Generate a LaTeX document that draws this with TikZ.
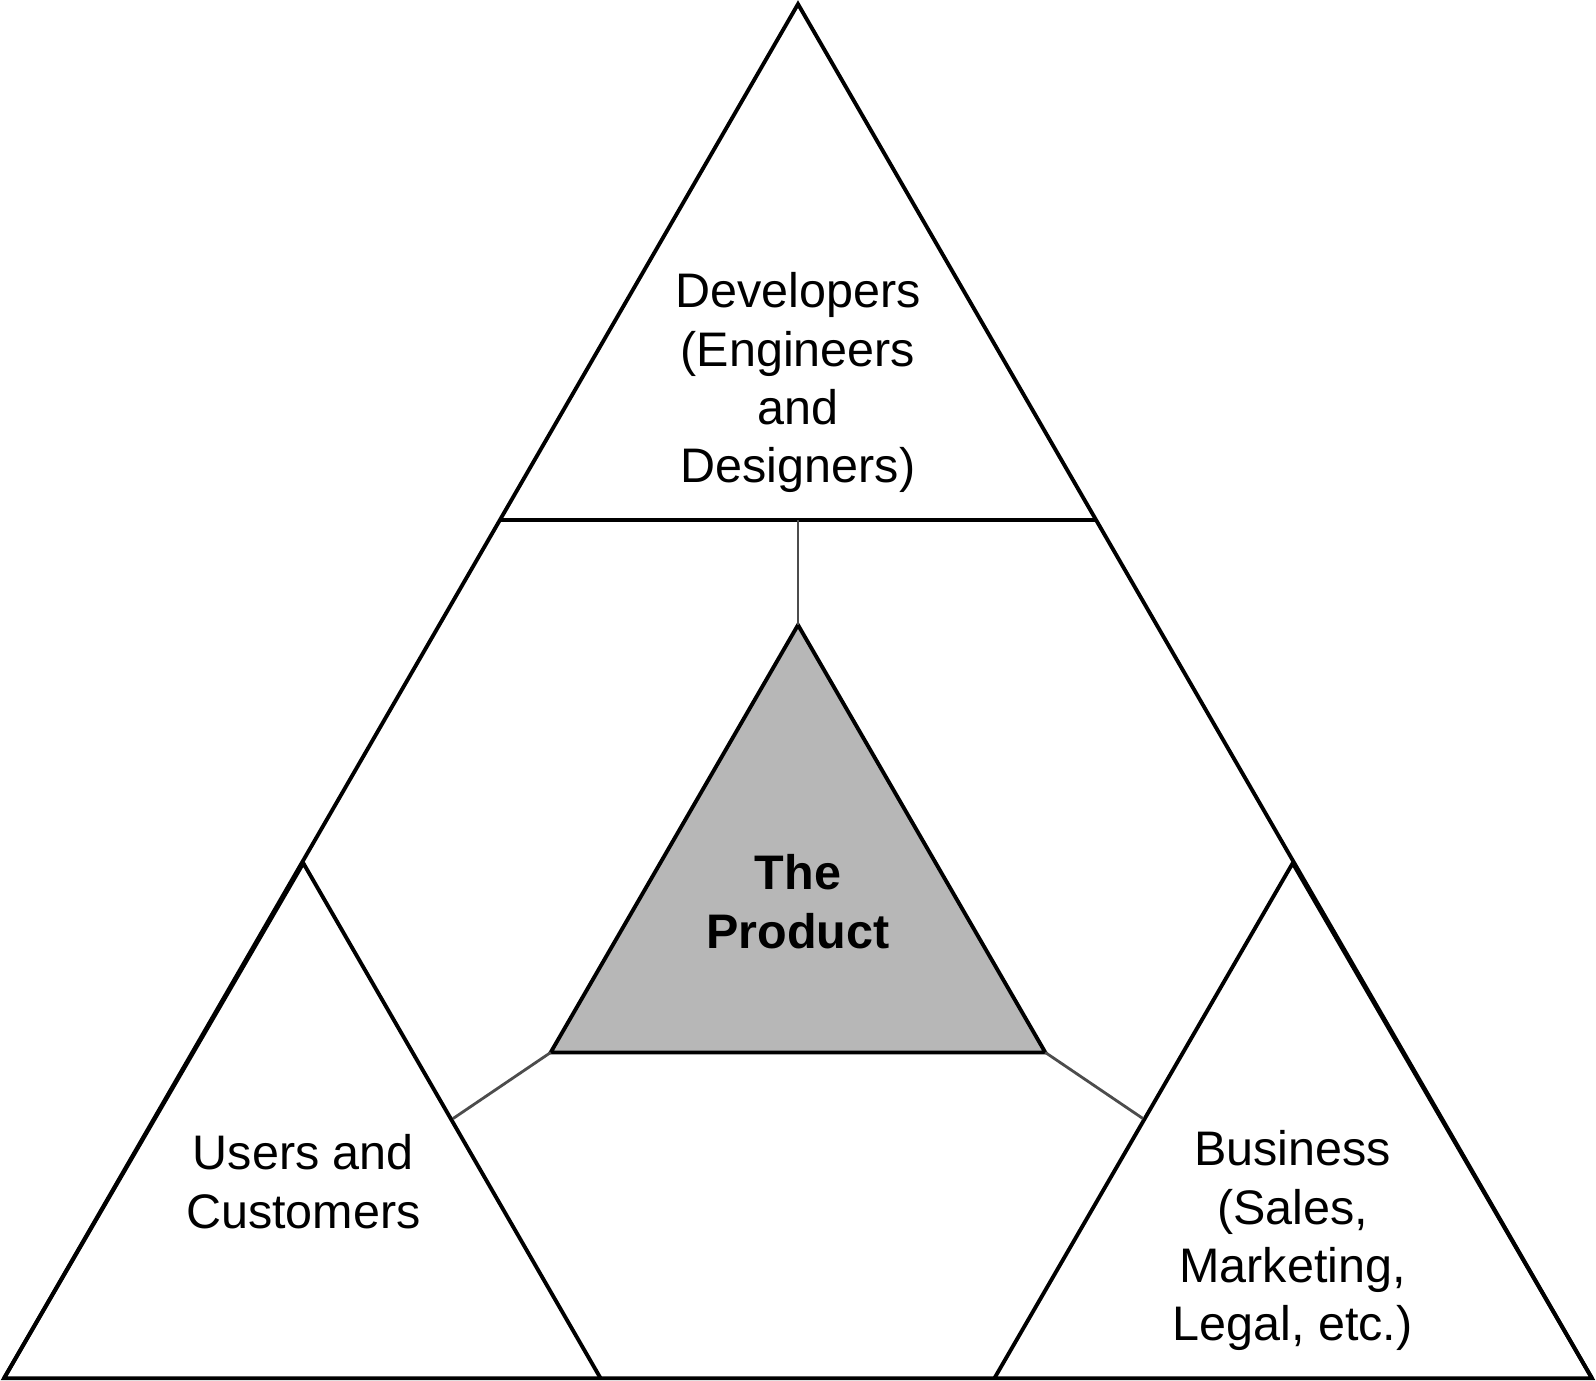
\documentclass[tikz,border=0pt]{standalone}
\usepackage{fontspec}
\setmainfont{Liberation Sans}
\usetikzlibrary{positioning}
\tikzset{
    edgeline/.style = {draw=black, line width=1.1pt, line join=miter},
    linkline/.style = {draw=black!70, line width=0.8pt},
    textnode/.style = {draw=none, fill=none, inner sep=0em, align=center,
      font=\fontsize{13.8}{16.6}\selectfont}
}
\definecolor{productgray}{HTML}{B7B7B7}

\begin{document}
\begin{tikzpicture}[x=0.1018mm, y=-0.1018mm]
    \useasboundingbox (0,0) rectangle (1568,1356);
    % corners
    \coordinate (top) at (784,4);
    \coordinate (bl) at (4,1354);
    \coordinate (br) at (1564,1354);
    \coordinate (cuttopl) at (491,511);
    \coordinate (cuttopr) at (1077,511);
    \coordinate (cutmid) at (784,511);
    \coordinate (lapex) at (298,848);
    \coordinate (lbase) at (590,1354);
    \coordinate (rapex) at (1270,848);
    \coordinate (rbase) at (977,1354);
    \coordinate (lfoot) at (445,1099);
    \coordinate (rfoot) at (1123,1099);
    % product triangle
    \coordinate (ptop) at (784,614);
    \coordinate (pleft) at (541,1034);
    \coordinate (pright) at (1027,1034);

    \draw [edgeline] (top) -- (bl) -- (br) -- cycle;
    \draw [edgeline] (cuttopl) -- (cuttopr);
    \draw [edgeline] (bl) -- (lapex) -- (lbase);
    \draw [edgeline] (br) -- (rapex) -- (rbase);
    \draw [edgeline, fill=productgray] (ptop) -- (pleft) -- (pright) -- cycle;
    \draw [linkline] (cutmid) -- (ptop);
    \draw [linkline] (pleft) -- (lfoot);
    \draw [linkline] (pright) -- (rfoot);

    \node [name=devs, textnode] at (784,376) {Developers\\(Engineers\\and\\Designers)};
    \node [name=product, textnode, font=\fontsize{13.8}{16.6}\selectfont\bfseries] at (784,886) {The\\Product};
    \node [name=users, textnode] at (298,1161) {Users and\\Customers};
    \node [name=business, textnode] at (1270,1219) {Business\\(Sales,\\Marketing,\\Legal, etc.)};
\end{tikzpicture}
\end{document}
